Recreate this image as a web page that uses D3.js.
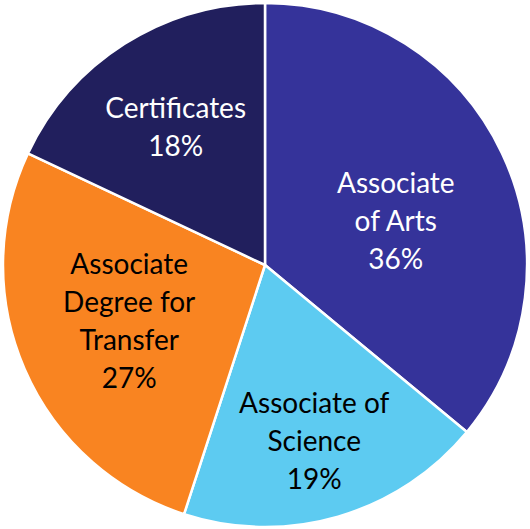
<!DOCTYPE html>
<html>
<head>
<meta charset="utf-8">
<script src="https://cdn.jsdelivr.net/npm/d3@7"></script>
<style>
  body { margin: 0; background: #fff; }
  text { font-family: Lato, "Open Sans", sans-serif; }
</style>
</head>
<body>
<script>
var categories = ["Associate of Arts", "Associate of Science", "Associate Degree for Transfer", "Certificates"];
var values = [36, 19, 27, 18];
var labelLines = [
  ["Associate", "of Arts", "36%"],
  ["Associate of", "Science", "19%"],
  ["Associate", "Degree for", "Transfer", "27%"],
  ["Certificates", "18%"]
];

var width = 530, height = 529,
  radius = 262;

var color = d3.scaleOrdinal()
  .domain(categories)
  .range(["#35339a", "#5dcbf1", "#f98421", "#211f5d"]);
var textColor = d3.scaleOrdinal()
  .domain(categories)
  .range(["#ffffff", "#000000", "#000000", "#ffffff"]);

// label placement tweaks (radius and angle nudge, degrees)
var labelR = [138, 183, 147, 164];
var labelNudge = [6.6, 0.6, 0.9, -0.6];

var arc = d3.arc()
  .outerRadius(radius)
  .innerRadius(0);

var pie = d3.pie()
  .sort(null)
  .value(function(d) { return d.value; });

var data = categories.map(function(c, i) {
  return { index: c, value: values[i], lines: labelLines[i], i: i };
});

var svg = d3.select("body")
  .append("svg")
  .attr("width", width)
  .attr("height", height)
  .append("g")
  .attr("transform", "translate(265,265)");

var g = svg.selectAll(".arc")
  .data(pie(data))
  .enter().append("g")
  .attr("class", "arc");

g.append("path")
  .attr("d", arc)
  .style("fill", function(d) { return color(d.data.index); })
  .style("stroke", "#fff")
  .style("stroke-width", 2.5)
  .style("stroke-linejoin", "round");

var lineH = 38;
g.append("text")
  .attr("transform", function(d) {
    var a = (d.startAngle + d.endAngle) / 2 + labelNudge[d.data.i] * Math.PI / 180;
    var r = labelR[d.data.i];
    return "translate(" + (Math.sin(a) * r) + "," + (-Math.cos(a) * r) + ")";
  })
  .attr("text-anchor", "middle")
  .style("font-size", "28px")
  .style("fill", function(d) { return textColor(d.data.index); })
  .each(function(d) {
    var n = d.data.lines.length;
    d3.select(this).selectAll("tspan")
      .data(d.data.lines)
      .enter().append("tspan")
      .attr("x", 0)
      .attr("y", function(l, k) { return (k - (n - 1) / 2) * lineH; })
      .attr("dy", "0.35em")
      .text(function(l) { return l; });
  });
</script>
</body>
</html>
